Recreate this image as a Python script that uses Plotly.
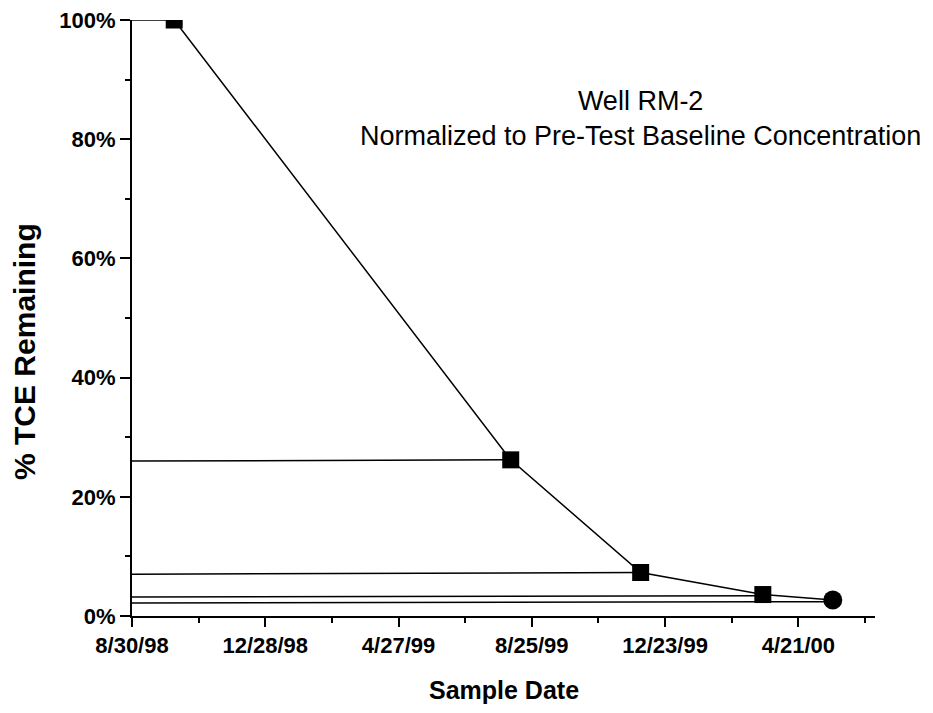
import plotly.graph_objects as go

# datos
fechas = ['1998-10-07', '1999-08-06', '1999-12-01', '2000-03-20']
tce_pct = [100, 26.2, 7.3, 3.6]
fecha_final = '2000-05-22'
tce_final = 2.7

# lineas horizontales desde el eje hasta cada punto (valor en el eje)
ref_fechas = ['1998-10-07', '1999-08-06', '1999-12-01', '2000-03-20', '2000-05-22']
ref_inicio = [100, 26.0, 7.0, 3.2, 2.2]
ref_fin = [100, 26.2, 7.3, 3.4, 2.4]
fecha_eje = '1998-08-30'

fig = go.Figure()

for f, a, b in zip(ref_fechas, ref_inicio, ref_fin):
    fig.add_trace(go.Scatter(x=[fecha_eje, f], y=[a, b], mode='lines',
                             line=dict(color='black', width=1.5),
                             showlegend=False, hoverinfo='skip'))

fig.add_trace(go.Scatter(x=fechas + [fecha_final], y=tce_pct + [tce_final],
                         mode='lines', line=dict(color='black', width=1.5),
                         showlegend=False))
fig.add_trace(go.Scatter(x=fechas, y=tce_pct, mode='markers',
                         marker=dict(symbol='square', size=17, color='black'),
                         showlegend=False))
fig.add_trace(go.Scatter(x=[fecha_final], y=[tce_final], mode='markers',
                         marker=dict(symbol='circle', size=19, color='black'),
                         showlegend=False))

dia = 86400000
fig.update_xaxes(
    type='date', range=['1998-08-30', '2000-06-29'],
    tick0='1998-08-30', dtick=120 * dia, tickformat='%-m/%-d/%y',
    ticks='outside', ticklen=9, tickwidth=2, tickcolor='black',
    minor=dict(dtick=60 * dia, tick0='1998-08-30', ticks='outside', ticklen=5,
               tickwidth=2, tickcolor='black'),
    showline=True, linecolor='black', linewidth=2,
    showgrid=False, zeroline=False, ticklabeloverflow='allow', automargin=False,
    tickfont=dict(family='Liberation Sans', size=22, color='black', weight='bold'),
)
fig.update_yaxes(
    range=[0, 100], dtick=20, ticksuffix='%',
    ticks='outside', ticklen=10, tickwidth=2, tickcolor='black',
    minor=dict(dtick=10, ticks='outside', ticklen=5, tickwidth=2, tickcolor='black'),
    showline=True, linecolor='black', linewidth=2,
    showgrid=False, zeroline=False, ticklabeloverflow='allow', automargin=False,
    tickfont=dict(family='Liberation Sans', size=22, color='black', weight='bold'),
)

fig.add_annotation(text='Well RM-2<br>Normalized to Pre-Test Baseline Concentration',
                   xref='paper', yref='paper', x=0.684, y=0.835,
                   xanchor='center', yanchor='middle',
                   showarrow=False, align='center',
                   font=dict(family='Liberation Sans', size=27, color='black'))
fig.add_annotation(text='% TCE Remaining', textangle=-90,
                   xref='paper', yref='paper', x=-0.144, y=0.443,
                   xanchor='center', yanchor='middle',
                   showarrow=False,
                   font=dict(family='Liberation Sans', size=30, color='black', weight='bold'))
fig.add_annotation(text='Sample Date',
                   xref='paper', yref='paper', x=0.5, y=-0.124,
                   xanchor='center', yanchor='middle',
                   showarrow=False,
                   font=dict(family='Liberation Sans', size=25, color='black', weight='bold'))

# la pagina deja 8 px de margen, se descuentan aqui
fig.update_layout(
    width=917, height=697,
    margin=dict(l=124, r=50, t=12, b=89),
    plot_bgcolor='white', paper_bgcolor='white',
)

fig.write_html("out.html")
